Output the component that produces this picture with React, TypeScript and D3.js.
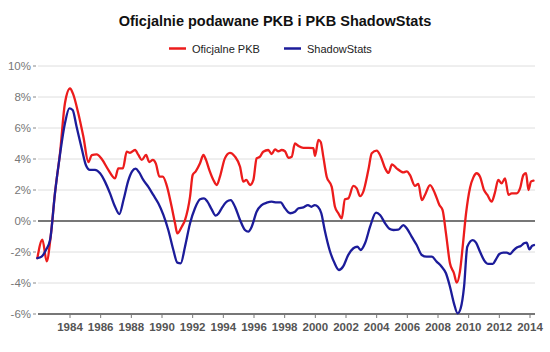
import React from "react";
import * as d3 from "d3";

const title = "Oficjalnie podawane PKB i PKB ShadowStats";
const seriesNames = ["Oficjalne PKB", "ShadowStats"];
const seriesColors = ["#ec1c1c", "#1c1c9a"];
const yTicks = [10, 8, 6, 4, 2, 0, -2, -4, -6];
const xTicks = [1984, 1986, 1988, 1990, 1992, 1994, 1996, 1998, 2000, 2002, 2004, 2006, 2008, 2010, 2012, 2014];

const official: [number, number][] = [
  [1981.87, -2.4], [1982.2, -1.2], [1982.48, -2.6], [1982.74, -1.0], [1983.02, 1.8],
  [1983.35, 4.4], [1983.67, 7.6], [1984.0, 8.55], [1984.2, 8.2], [1984.54, 6.95],
  [1984.87, 5.45], [1985.2, 3.8], [1985.42, 4.25], [1985.74, 4.3], [1986.07, 4.0],
  [1986.5, 3.3], [1986.94, 2.75], [1987.15, 3.4], [1987.45, 3.4], [1987.7, 4.47],
  [1987.91, 4.4], [1988.24, 4.58], [1988.46, 4.26], [1988.68, 3.94], [1988.96, 4.26],
  [1989.17, 3.8], [1989.4, 3.94], [1989.6, 3.7], [1989.83, 2.86], [1990.05, 2.86],
  [1990.3, 2.32], [1990.63, 0.92], [1990.85, -0.15], [1991.0, -0.8], [1991.29, -0.37],
  [1991.5, 0.06], [1991.83, 1.57], [1992.0, 2.97], [1992.2, 3.2], [1992.48, 3.72],
  [1992.7, 4.26], [1992.87, 3.94], [1993.1, 3.25], [1993.35, 2.65], [1993.57, 2.32],
  [1993.78, 2.86], [1994.1, 4.04], [1994.43, 4.4], [1994.76, 4.15], [1995.09, 3.5],
  [1995.3, 2.54], [1995.5, 2.65], [1995.74, 2.32], [1995.96, 2.65], [1996.17, 4.04],
  [1996.39, 4.15], [1996.6, 4.47], [1996.93, 4.58], [1997.15, 4.32], [1997.37, 4.62],
  [1997.59, 4.5], [1997.8, 4.58], [1998.02, 4.5], [1998.24, 4.08], [1998.46, 4.15],
  [1998.67, 5.0], [1998.9, 4.84], [1999.22, 4.72], [1999.55, 4.72], [1999.87, 4.7],
  [1999.98, 4.2], [2000.2, 5.23], [2000.35, 5.1], [2000.52, 4.15], [2000.74, 2.86],
  [2001.07, 2.2], [2001.28, 0.92], [2001.5, 0.5], [2001.72, 0.17], [2001.93, 1.4],
  [2002.15, 1.46], [2002.48, 2.26], [2002.7, 2.1], [2002.92, 1.6], [2003.13, 1.9],
  [2003.46, 3.3], [2003.68, 4.37], [2004.0, 4.54], [2004.27, 4.15], [2004.55, 3.4],
  [2004.77, 3.1], [2005.0, 3.65], [2005.3, 3.4], [2005.74, 3.14], [2005.96, 3.2],
  [2006.17, 2.97], [2006.5, 2.26], [2006.72, 2.4], [2006.94, 1.35], [2007.15, 1.68],
  [2007.48, 2.32], [2007.8, 1.78], [2008.09, 1.03], [2008.3, 0.7], [2008.52, -0.8],
  [2008.78, -2.73], [2009.04, -3.37], [2009.22, -3.98], [2009.43, -3.27], [2009.61, -1.66],
  [2009.83, 0.5], [2010.09, 2.15], [2010.3, 2.8], [2010.52, 3.08], [2010.74, 2.86],
  [2011.0, 2.0], [2011.22, 1.68], [2011.5, 1.25], [2011.7, 1.78], [2011.93, 2.65],
  [2012.15, 2.43], [2012.37, 2.75], [2012.6, 1.68], [2012.8, 1.78], [2013.13, 1.78],
  [2013.35, 2.1], [2013.57, 2.97], [2013.74, 3.08], [2013.9, 2.0], [2014.06, 2.54],
  [2014.23, 2.6],
];

const shadow: [number, number][] = [
  [1981.87, -2.4], [1982.15, -2.3], [1982.43, -1.87], [1982.7, -1.23], [1983.02, 1.8],
  [1983.35, 4.3], [1983.67, 6.3], [1983.96, 7.27], [1984.17, 7.16], [1984.43, 6.08],
  [1984.76, 4.7], [1985.04, 3.6], [1985.3, 3.3], [1985.63, 3.3], [1985.96, 3.08],
  [1986.28, 2.54], [1986.61, 1.78], [1986.94, 0.92], [1987.22, 0.45], [1987.5, 1.4],
  [1987.8, 2.6], [1988.05, 3.2], [1988.28, 3.38], [1988.5, 3.15], [1988.78, 2.65],
  [1989.11, 2.2], [1989.43, 1.68], [1989.76, 1.14], [1990.09, 0.39], [1990.41, -0.58],
  [1990.74, -1.87], [1991.0, -2.69], [1991.22, -2.73], [1991.5, -1.66], [1991.83, -0.15],
  [1992.15, 0.82], [1992.48, 1.4], [1992.74, 1.46], [1992.96, 1.25], [1993.24, 0.75],
  [1993.5, 0.35], [1993.7, 0.5], [1993.89, 0.82], [1994.22, 1.25], [1994.48, 1.35],
  [1994.76, 0.92], [1995.09, 0.06], [1995.41, -0.58], [1995.63, -0.69], [1995.85, -0.37],
  [1996.17, 0.6], [1996.5, 1.03], [1996.83, 1.18], [1997.15, 1.25], [1997.48, 1.2],
  [1997.74, 1.2], [1998.02, 0.82], [1998.35, 0.5], [1998.67, 0.6], [1998.9, 0.82],
  [1999.22, 0.88], [1999.52, 1.03], [1999.74, 0.92], [1999.96, 1.03], [2000.17, 0.92],
  [2000.39, 0.5], [2000.61, -0.58], [2000.93, -1.87], [2001.26, -2.73], [2001.54, -3.16],
  [2001.8, -2.95], [2002.15, -2.19], [2002.48, -1.76], [2002.74, -1.66], [2002.96, -1.87],
  [2003.24, -1.44], [2003.57, -0.37], [2003.96, 0.54], [2004.22, 0.39], [2004.55, -0.15],
  [2004.83, -0.5], [2005.09, -0.58], [2005.41, -0.56], [2005.74, -0.26], [2005.96, -0.47],
  [2006.28, -1.01], [2006.61, -1.55], [2006.94, -2.19], [2007.26, -2.3], [2007.59, -2.3],
  [2007.91, -2.62], [2008.24, -2.95], [2008.52, -3.37], [2008.78, -4.24], [2009.04, -5.31],
  [2009.28, -5.96], [2009.48, -5.63], [2009.7, -4.24], [2009.91, -1.66], [2010.27, -1.23],
  [2010.48, -1.4], [2010.74, -1.98], [2011.0, -2.52], [2011.28, -2.77], [2011.57, -2.77],
  [2011.78, -2.47], [2012.0, -2.13], [2012.26, -2.04], [2012.48, -2.04], [2012.7, -2.13],
  [2012.91, -1.91], [2013.17, -1.7], [2013.4, -1.61], [2013.61, -1.44], [2013.78, -1.4],
  [2013.96, -1.83], [2014.13, -1.61], [2014.26, -1.55],
];

const W = 550;
const H = 352;
const FONT = "'Liberation Sans', Arial, sans-serif";

export default function App() {
  const x = d3.scaleLinear().domain([1984, 2014]).range([70, 530]);
  const y = d3.scaleLinear().domain([-6, 10]).range([314, 66]);
  const gridX0 = 38;
  const gridX1 = 535;
  const line = d3
    .line<[number, number]>()
    .x((d) => x(d[0]))
    .y((d) => y(d[1]))
    .curve(d3.curveMonotoneX);
  const series = [official, shadow];

  return (
    <svg
      width={W}
      height={H}
      style={{ position: "absolute", left: 0, top: 0, background: "#fff" }}
      fontFamily={FONT}
    >
      <rect width={W} height={H} fill="#fff" />
      <text x={275} y={26} textAnchor="middle" fontSize={14.5} fontWeight="bold" fill="#111">
        {title}
      </text>
      {seriesNames.map((n, i) => {
        const lx = i === 0 ? 169 : 284;
        return (
          <g key={n}>
            <line x1={lx} x2={lx + 17} y1={48.5} y2={48.5} stroke={seriesColors[i]} strokeWidth={2.5} />
            <text x={lx + 23} y={52.5} fontSize={11} fill="#222">
              {n}
            </text>
          </g>
        );
      })}
      {yTicks.map((t) => (
        <g key={t}>
          <line
            x1={gridX0}
            x2={gridX1}
            y1={y(t)}
            y2={y(t)}
            stroke={t === 0 || t === -6 ? "#777" : "#dedede"}
            strokeWidth={t === 0 || t === -6 ? 2 : 1}
          />
          <line x1={33} x2={36} y1={y(t)} y2={y(t)} stroke="#888" strokeWidth={1} />
          <text x={31} y={y(t) + 4} textAnchor="end" fontSize={11.5} fill="#777">
            {`${t}%`}
          </text>
        </g>
      ))}
      {xTicks.map((t) => (
        <g key={t}>
          <line x1={x(t)} x2={x(t)} y1={314} y2={318} stroke="#777" strokeWidth={1} />
          <text x={x(t)} y={330.5} textAnchor="middle" fontSize={11.5} fontWeight="bold" fill="#555">
            {t}
          </text>
        </g>
      ))}
      {series.map((s, i) => (
        <path
          key={i}
          d={line(s) || ""}
          fill="none"
          stroke={seriesColors[i]}
          strokeWidth={2.3}
          strokeLinejoin="round"
          strokeLinecap="round"
        />
      ))}
    </svg>
  );
}
